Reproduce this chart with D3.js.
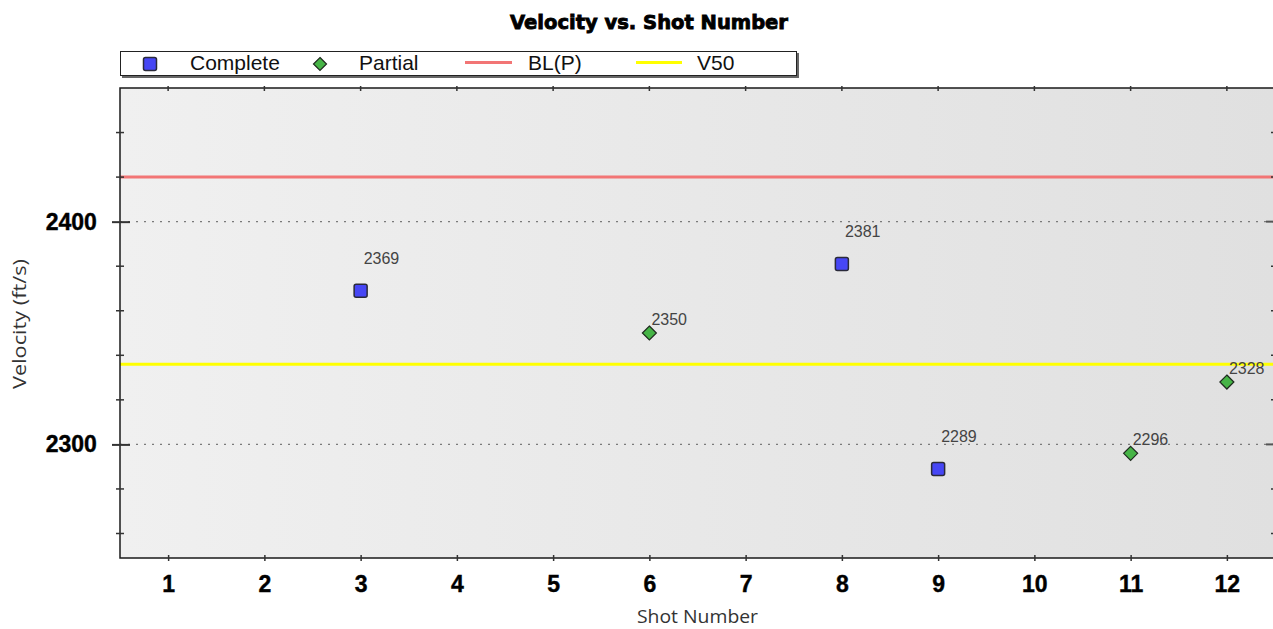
<!DOCTYPE html>
<html>
<head>
<meta charset="utf-8">
<script src="https://cdn.jsdelivr.net/npm/d3@7"></script>
<style>
  body { margin: 0; background: #fff; }
  svg { display: block; }
</style>
</head>
<body>
<div id="chart"></div>
<script>
// data
var shots = [3, 6, 8, 9, 11, 12];
var velocities = [2369, 2350, 2381, 2289, 2296, 2328];
var outcomes = ["Complete", "Partial", "Complete", "Complete", "Partial", "Partial"];
var blpValue = 2420;
var v50Value = 2336;
var xTicks = [1, 2, 3, 4, 5, 6, 7, 8, 9, 10, 11, 12];
var yMajor = [2300, 2400];
var yMinor = [2260, 2280, 2320, 2340, 2360, 2380, 2420, 2440];
var legendItems = ["Complete", "Partial", "BL(P)", "V50"];

var W = 1273, H = 629;
var margin = { top: 88, right: -2, bottom: 71, left: 120 };
var width = W - margin.left - margin.right;
var height = H - margin.top - margin.bottom;

var svg = d3.select("#chart").append("svg")
  .attr("width", W).attr("height", H);

var x = d3.scaleLinear().domain([0.5, 12.5]).range([0, width]);
var y = d3.scaleLinear().domain([2249, 2460]).range([height, 0]);

// background gradient
var defs = svg.append("defs");
var grad = defs.append("linearGradient").attr("id", "bg")
  .attr("x1", "0%").attr("y1", "0%").attr("x2", "100%").attr("y2", "0%");
grad.append("stop").attr("offset", "0%").attr("stop-color", "#f0f0f0");
grad.append("stop").attr("offset", "100%").attr("stop-color", "#e0e0e0");

var g = svg.append("g")
  .attr("transform", "translate(" + margin.left + "," + margin.top + ")");

g.append("rect")
  .attr("width", width).attr("height", height)
  .style("fill", "url(#bg)");

// dotted grid on major values
g.append("g").selectAll("line").data(yMajor).enter().append("line")
  .attr("x1", 0).attr("x2", width)
  .attr("y1", function (d) { return y(d); })
  .attr("y2", function (d) { return y(d); })
  .attr("stroke", "#7a7a7a").attr("stroke-width", 1.3)
  .attr("stroke-dasharray", "2,6");

// reference lines
g.append("line")
  .attr("x1", 0).attr("x2", width)
  .attr("y1", y(blpValue)).attr("y2", y(blpValue))
  .attr("stroke", "#f27575").attr("stroke-width", 3);
g.append("line")
  .attr("x1", 0).attr("x2", width)
  .attr("y1", y(v50Value)).attr("y2", y(v50Value))
  .attr("stroke", "#ffff00").attr("stroke-width", 3);

// frame
g.append("rect")
  .attr("width", width).attr("height", height)
  .attr("fill", "none").attr("stroke", "#1a1a1a").attr("stroke-width", 1.5);

// left axis
var yAxis = d3.axisLeft(y).tickValues(yMajor).tickSize(8).tickPadding(14)
  .tickFormat(d3.format("d"));
var yl = g.append("g").call(yAxis);
yl.select(".domain").remove();
yl.selectAll(".tick line").attr("x2", 10).attr("x1", -8)
  .attr("stroke", "#333").attr("stroke-width", 2);
yl.selectAll("text")
  .style("font-family", "Liberation Sans, Arial, sans-serif")
  .style("font-weight", "bold").style("font-size", "23px").attr("fill", "#000")
  .attr("stroke", "#000").attr("stroke-width", 0.4)
  .attr("dx", "-0.05em");
g.append("g").selectAll("line").data(yMinor).enter().append("line")
  .attr("x1", -4).attr("x2", 4)
  .attr("y1", function (d) { return y(d); })
  .attr("y2", function (d) { return y(d); })
  .attr("stroke", "#333").attr("stroke-width", 1.5);

// right ticks
g.append("g").selectAll("line").data(yMajor).enter().append("line")
  .attr("x1", width - 9).attr("x2", width)
  .attr("y1", function (d) { return y(d); })
  .attr("y2", function (d) { return y(d); })
  .attr("stroke", "#555").attr("stroke-width", 2);
g.append("g").selectAll("line").data(yMinor).enter().append("line")
  .attr("x1", width - 4).attr("x2", width)
  .attr("y1", function (d) { return y(d); })
  .attr("y2", function (d) { return y(d); })
  .attr("stroke", "#333").attr("stroke-width", 1.5);

// bottom axis
var xAxis = d3.axisBottom(x).tickValues(xTicks).tickSize(3).tickPadding(15)
  .tickFormat(d3.format("d"));
var xb = g.append("g").attr("transform", "translate(0," + height + ")").call(xAxis);
xb.select(".domain").remove();
xb.selectAll(".tick line").attr("y1", -3).attr("stroke", "#333").attr("stroke-width", 1.5);
xb.selectAll("text")
  .style("font-family", "Liberation Sans, Arial, sans-serif")
  .style("font-weight", "bold").style("font-size", "23px").attr("fill", "#000")
  .attr("stroke", "#000").attr("stroke-width", 0.4);

// top ticks
g.append("g").selectAll("line").data(xTicks).enter().append("line")
  .attr("x1", function (d) { return x(d); })
  .attr("x2", function (d) { return x(d); })
  .attr("y1", -2).attr("y2", 3)
  .attr("stroke", "#333").attr("stroke-width", 1.5);

// points
var pts = shots.map(function (s, i) {
  return { shot: s, v: velocities[i], kind: outcomes[i] };
});
var sq = 13, dm = 14;
g.append("g").selectAll("rect").data(pts.filter(function (d) { return d.kind == "Complete"; }))
  .enter().append("rect")
  .attr("x", function (d) { return x(d.shot) - sq / 2; })
  .attr("y", function (d) { return y(d.v) - sq / 2; })
  .attr("width", sq).attr("height", sq).attr("rx", 2)
  .attr("fill", "#4646f5").attr("stroke", "#2a2a3a").attr("stroke-width", 1.5);
g.append("g").selectAll("path").data(pts.filter(function (d) { return d.kind == "Partial"; }))
  .enter().append("path")
  .attr("d", function (d) {
    var cx = x(d.shot), cy = y(d.v), r = dm / 2;
    return "M" + cx + "," + (cy - r) + "L" + (cx + r) + "," + cy + "L" + cx + "," + (cy + r) + "L" + (cx - r) + "," + cy + "Z";
  })
  .attr("fill", "#46b446").attr("stroke", "#1f2a1f").attr("stroke-width", 1.2);

// point labels
g.append("g").selectAll("text").data(pts).enter().append("text")
  .attr("x", function (d) { return x(d.shot) + (d.kind == "Complete" ? 3 : 2); })
  .attr("y", function (d) { return y(d.v) - (d.kind == "Complete" ? 27 : 8); })
  .text(function (d) { return d.v; })
  .style("font-family", "Liberation Sans, Arial, sans-serif")
  .style("font-size", "16px").attr("fill", "#444");

// title
svg.append("text")
  .attr("x", 649).attr("y", 29).attr("text-anchor", "middle")
  .attr("textLength", 278).attr("lengthAdjust", "spacingAndGlyphs")
  .style("font-family", "DejaVu Sans, sans-serif")
  .style("font-weight", "bold").style("font-size", "20px")
  .attr("stroke", "#000").attr("stroke-width", 0.9)
  .text("Velocity vs. Shot Number");

// axis titles
svg.append("text")
  .attr("x", margin.left + x(6.5)).attr("y", 623).attr("text-anchor", "middle")
  .attr("textLength", 121).attr("lengthAdjust", "spacingAndGlyphs")
  .style("font-family", "Open Sans, DejaVu Sans, sans-serif")
  .style("font-size", "19px").attr("fill", "#333")
  .text("Shot Number");
svg.append("text")
  .attr("transform", "translate(26,324) rotate(-90)").attr("text-anchor", "middle")
  .attr("textLength", 130).attr("lengthAdjust", "spacingAndGlyphs")
  .style("font-family", "Open Sans, DejaVu Sans, sans-serif")
  .style("font-size", "19px").attr("fill", "#333")
  .text("Velocity (ft/s)");

// legend
var lg = svg.append("g");
lg.append("rect").attr("x", 122).attr("y", 53).attr("width", 677).attr("height", 25)
  .attr("fill", "#666");
lg.append("rect").attr("x", 120.5).attr("y", 51.5).attr("width", 676).attr("height", 24)
  .attr("fill", "#fff").attr("stroke", "#222").attr("stroke-width", 1);
var lx = [150, 320, 488, 658];
var tx = [190, 359, 528, 697];
lg.append("rect").attr("x", lx[0] - 6.5).attr("y", 64 - 6.5).attr("width", 13).attr("height", 13)
  .attr("rx", 2).attr("fill", "#4646f5").attr("stroke", "#2a2a3a").attr("stroke-width", 1.5);
lg.append("path")
  .attr("d", "M" + lx[1] + ",57.5L" + (lx[1] + 6.5) + ",64L" + lx[1] + ",70.5L" + (lx[1] - 6.5) + ",64Z")
  .attr("fill", "#46b446").attr("stroke", "#1f2a1f").attr("stroke-width", 1.2);
lg.append("line").attr("x1", lx[2] - 23).attr("x2", lx[2] + 24).attr("y1", 62.5).attr("y2", 62.5)
  .attr("stroke", "#f27575").attr("stroke-width", 3);
lg.append("line").attr("x1", lx[3] - 22).attr("x2", lx[3] + 24).attr("y1", 62.5).attr("y2", 62.5)
  .attr("stroke", "#ffff00").attr("stroke-width", 3);
lg.selectAll("text.leg").data(legendItems).enter().append("text")
  .attr("class", "leg")
  .attr("x", function (d, i) { return tx[i]; }).attr("y", 70)
  .text(function (d) { return d; })
  .style("font-family", "Liberation Sans, Arial, sans-serif")
  .style("font-size", "21px").attr("fill", "#111");
</script>
</body>
</html>
